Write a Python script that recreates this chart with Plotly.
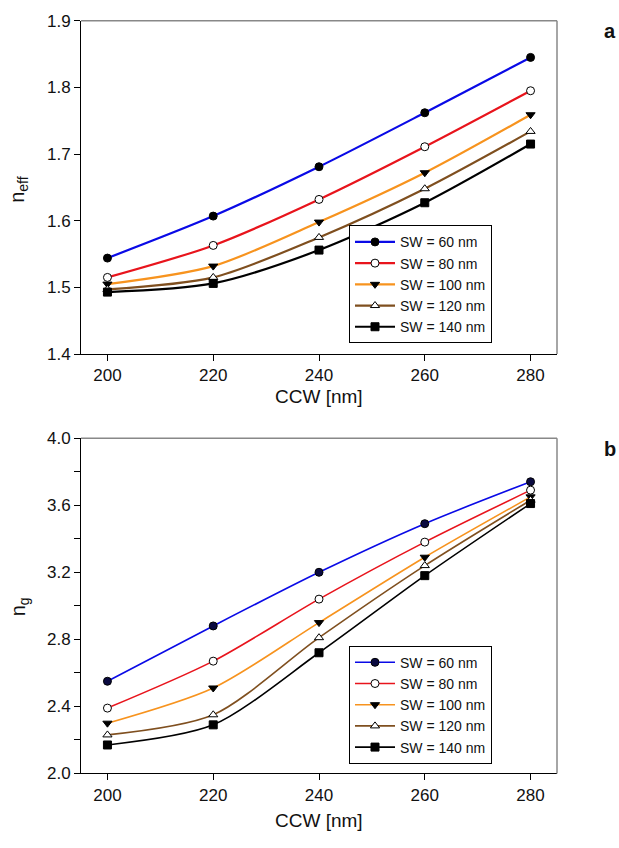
import plotly.graph_objects as go

ccw = [200, 220, 240, 260, 280]
sw_labels = ["SW = 60 nm", "SW = 80 nm", "SW = 100 nm", "SW = 120 nm", "SW = 140 nm"]

neff_60 = [1.544, 1.607, 1.681, 1.762, 1.845]
neff_80 = [1.515, 1.563, 1.632, 1.711, 1.795]
neff_100 = [1.505, 1.532, 1.598, 1.672, 1.759]
neff_120 = [1.497, 1.515, 1.575, 1.648, 1.734]
neff_140 = [1.493, 1.506, 1.556, 1.627, 1.715]

ng_60 = [2.55, 2.88, 3.20, 3.49, 3.74]
ng_80 = [2.39, 2.67, 3.04, 3.38, 3.69]
ng_100 = [2.30, 2.51, 2.90, 3.29, 3.65]
ng_120 = [2.23, 2.35, 2.81, 3.24, 3.63]
ng_140 = [2.17, 2.29, 2.72, 3.18, 3.61]

neff_series = [neff_60, neff_80, neff_100, neff_120, neff_140]
ng_series = [ng_60, ng_80, ng_100, ng_120, ng_140]

line_colors = ["#0a0ae6", "#e8141c", "#f7931e", "#7f4f1f", "#000000"]
symbols = ["circle", "circle", "triangle-down", "triangle-up", "square"]
fills_top = ["#000000", "#ffffff", "#000000", "#ffffff", "#000000"]
fills_bot = ["#0a0a40", "#ffffff", "#000000", "#ffffff", "#000000"]

FONT = "Arial, Liberation Sans, sans-serif"

fig = go.Figure()

for i in range(5):
    fig.add_trace(go.Scatter(
        x=ccw, y=neff_series[i], name=sw_labels[i], mode="lines+markers",
        line=dict(color=line_colors[i], width=2.2, shape="spline", smoothing=0.8),
        marker=dict(symbol=symbols[i], size=8, color=fills_top[i],
                    line=dict(color="#000000", width=1)),
        xaxis="x", yaxis="y", legend="legend"))
for i in range(5):
    fig.add_trace(go.Scatter(
        x=ccw, y=ng_series[i], name=sw_labels[i], mode="lines+markers",
        line=dict(color=line_colors[i], width=1.6, shape="spline", smoothing=0.8),
        marker=dict(symbol=symbols[i], size=8, color=fills_bot[i],
                    line=dict(color="#000000", width=1)),
        xaxis="x2", yaxis="y2", legend="legend2"))

W, H = 619, 848
xd = [81 / W, 557 / W]
yd_top = [1 - 353 / H, 1 - 12 / H]
yd_bot = [1 - 782 / H, 1 - 439 / H]

axis_common = dict(showline=True, linecolor="#000000", linewidth=1, ticks="outside",
                   ticklen=6, tickcolor="#000000", showgrid=False, zeroline=False,
                   tickfont=dict(family=FONT, size=17, color="#111111"), mirror=False)

legend_common = dict(xanchor="left", yanchor="bottom",
                     bordercolor="#000000", borderwidth=1, bgcolor="white",
                     font=dict(family=FONT, size=14, color="#111111"),
                     tracegroupgap=0, itemwidth=40, entrywidth=135)

fig.update_layout(
    width=W, height=H, margin=dict(l=0, r=0, t=0, b=0),
    paper_bgcolor="white", plot_bgcolor="white",
    font=dict(family=FONT, color="#111111"),
    xaxis=dict(domain=xd, range=[195, 285], tickvals=ccw, anchor="y", **axis_common),
    yaxis=dict(domain=yd_top, range=[1.4, 1.9], dtick=0.1, tickformat=".1f", anchor="x", **axis_common),
    xaxis2=dict(domain=xd, range=[195, 285], tickvals=ccw, anchor="y2", **axis_common),
    yaxis2=dict(domain=yd_bot, range=[2.0, 4.0], dtick=0.4, tickformat=".1f", anchor="x2",
                minor=dict(dtick=0.2, ticks="outside", ticklen=6, tickcolor="#000000"),
                **axis_common),
    legend=dict(x=349 / W, y=1 - 342 / H, **legend_common),
    legend2=dict(x=349 / W, y=1 - 772 / H, **legend_common),
    showlegend=True,
)

# gray top/right frame lines
for xr, yr in [("x domain", "y domain"), ("x2 domain", "y2 domain")]:
    fig.add_shape(type="line", xref=xr, yref=yr, x0=0, x1=1, y0=1, y1=1,
                  line=dict(color="#888888", width=1.5))
    fig.add_shape(type="line", xref=xr, yref=yr, x0=1, x1=1, y0=0, y1=1,
                  line=dict(color="#888888", width=1.5))

ann = [
    dict(text="n<sub>eff</sub>", x=19 / W, y=1 - 185 / H, textangle=-90, size=20),
    dict(text="n<sub>g</sub>", x=19 / W, y=1 - 612 / H, textangle=-90, size=20),
    dict(text="CCW [nm]", x=319 / W, y=1 - 396 / H, textangle=0, size=19),
    dict(text="CCW [nm]", x=319 / W, y=1 - 830 / H, textangle=0, size=19),
    dict(text="<b>a</b>", x=610 / W, y=1 - 22 / H, textangle=0, size=20),
    dict(text="<b>b</b>", x=610 / W, y=1 - 450 / H, textangle=0, size=20),
]
for a in ann:
    fig.add_annotation(text=a["text"], x=a["x"], y=a["y"], xref="paper", yref="paper",
                       showarrow=False, textangle=a["textangle"],
                       xanchor="center", yanchor="middle",
                       font=dict(family=FONT, size=a["size"], color="#111111"))

fig.write_html("out.html", config={"displayModeBar": False},
               post_script="document.body.style.margin='0px';")
